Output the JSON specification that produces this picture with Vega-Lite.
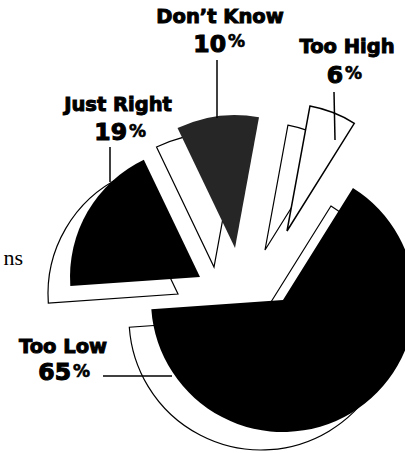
{
  "$schema": "https://vega.github.io/schema/vega-lite/v6.json",
  "width": 405,
  "height": 453,
  "padding": 0,
  "autosize": {"type": "fit", "contains": "padding"},
  "background": "white",
  "config": {"view": {"stroke": null}},
  "data": {"values": [
    {"answer": "Too Low", "pct": 65},
    {"answer": "Just Right", "pct": 19},
    {"answer": "Don’t Know", "pct": 10},
    {"answer": "Too High", "pct": 6}
  ]},
  "transform": [
    {"stack": "pct", "groupby": [], "sort": [{"field": "pct", "order": "descending"}], "as": ["t0", "t1"]}
  ],
  "layer": [
    {"transform": [{"filter": "datum.answer === 'Too Low'"}],
     "mark": {"type": "arc", "x": 261, "y": 318, "radius": 132, "fill": "white", "stroke": "black", "strokeWidth": 1.2},
     "encoding": {"theta": {"field": "t0", "type": "quantitative", "scale": {"domain": [0, 100], "range": [0.5585, 6.8417]}}, "theta2": {"field": "t1"}}},
    {"transform": [{"filter": "datum.answer === 'Just Right'"}],
     "mark": {"type": "arc", "x": 178, "y": 294, "radius": 130, "fill": "white", "stroke": "black", "strokeWidth": 1.2},
     "encoding": {"theta": {"field": "t0", "type": "quantitative", "scale": {"domain": [0, 100], "range": [0.5585, 6.8417]}}, "theta2": {"field": "t1"}}},
    {"transform": [{"filter": "datum.answer === 'Don’t Know'"}],
     "mark": {"type": "arc", "x": 214, "y": 267, "radius": 133, "fill": "white", "stroke": "black", "strokeWidth": 1.2},
     "encoding": {"theta": {"field": "t0", "type": "quantitative", "scale": {"domain": [0, 100], "range": [0.5585, 6.8417]}}, "theta2": {"field": "t1"}}},
    {"transform": [{"filter": "datum.answer === 'Too High'"}],
     "mark": {"type": "arc", "x": 265, "y": 250, "radius": 127, "fill": "white", "stroke": "black", "strokeWidth": 1.2},
     "encoding": {"theta": {"field": "t0", "type": "quantitative", "scale": {"domain": [0, 100], "range": [0.5585, 6.8417]}}, "theta2": {"field": "t1"}}},

    {"transform": [{"filter": "datum.answer === 'Too Low'"}],
     "mark": {"type": "arc", "x": 283, "y": 300, "radius": 132, "fill": "black"},
     "encoding": {"theta": {"field": "t0", "type": "quantitative", "scale": {"domain": [0, 100], "range": [0.5585, 6.8417]}}, "theta2": {"field": "t1"}}},
    {"transform": [{"filter": "datum.answer === 'Just Right'"}],
     "mark": {"type": "arc", "x": 200, "y": 277, "radius": 130, "fill": "black"},
     "encoding": {"theta": {"field": "t0", "type": "quantitative", "scale": {"domain": [0, 100], "range": [0.5585, 6.8417]}}, "theta2": {"field": "t1"}}},
    {"transform": [{"filter": "datum.answer === 'Don’t Know'"}],
     "mark": {"type": "arc", "x": 235, "y": 248, "radius": 133, "fill": "#262626"},
     "encoding": {"theta": {"field": "t0", "type": "quantitative", "scale": {"domain": [0, 100], "range": [0.5585, 6.8417]}}, "theta2": {"field": "t1"}}},
    {"transform": [{"filter": "datum.answer === 'Too High'"}],
     "mark": {"type": "arc", "x": 287, "y": 231, "radius": 127, "fill": "white", "stroke": "black", "strokeWidth": 1.5},
     "encoding": {"theta": {"field": "t0", "type": "quantitative", "scale": {"domain": [0, 100], "range": [0.5585, 6.8417]}}, "theta2": {"field": "t1"}}},

    {"transform": [{"filter": "datum.answer === 'Don’t Know'"}],
     "mark": {"type": "rule", "stroke": "black", "strokeWidth": 1.5},
     "encoding": {"x": {"value": 217}, "y": {"value": 60}, "x2": {"value": 217}, "y2": {"value": 118}}},
    {"transform": [{"filter": "datum.answer === 'Too High'"}],
     "mark": {"type": "rule", "stroke": "black", "strokeWidth": 1.5},
     "encoding": {"x": {"value": 334}, "y": {"value": 92}, "x2": {"value": 335}, "y2": {"value": 140}}},
    {"transform": [{"filter": "datum.answer === 'Just Right'"}],
     "mark": {"type": "rule", "stroke": "black", "strokeWidth": 1.5},
     "encoding": {"x": {"value": 110}, "y": {"value": 147}, "x2": {"value": 110}, "y2": {"value": 182}}},
    {"transform": [{"filter": "datum.answer === 'Too Low'"}],
     "mark": {"type": "rule", "stroke": "black", "strokeWidth": 1.5},
     "encoding": {"x": {"value": 103}, "y": {"value": 376}, "x2": {"value": 172}, "y2": {"value": 376}}},

    {"transform": [{"filter": "datum.answer === 'Don’t Know'"}],
     "mark": {"type": "text", "x": 220, "y": 23, "align": "center", "baseline": "alphabetic", "font": "DejaVu Sans", "fontWeight": "bold", "fontSize": 19.5, "stroke": "black", "strokeWidth": 1},
     "encoding": {"text": {"field": "answer"}}},
    {"transform": [{"filter": "datum.answer === 'Too High'"}],
     "mark": {"type": "text", "x": 347, "y": 53, "align": "center", "baseline": "alphabetic", "font": "DejaVu Sans", "fontWeight": "bold", "fontSize": 19.5, "stroke": "black", "strokeWidth": 1},
     "encoding": {"text": {"field": "answer"}}},
    {"transform": [{"filter": "datum.answer === 'Just Right'"}],
     "mark": {"type": "text", "x": 118, "y": 111, "align": "center", "baseline": "alphabetic", "font": "DejaVu Sans", "fontWeight": "bold", "fontSize": 19.5, "stroke": "black", "strokeWidth": 1},
     "encoding": {"text": {"field": "answer"}}},
    {"transform": [{"filter": "datum.answer === 'Too Low'"}],
     "mark": {"type": "text", "x": 63, "y": 353, "align": "center", "baseline": "alphabetic", "font": "DejaVu Sans", "fontWeight": "bold", "fontSize": 19.5, "stroke": "black", "strokeWidth": 1},
     "encoding": {"text": {"field": "answer"}}},

    {"transform": [{"filter": "datum.answer === 'Don’t Know'"}],
     "mark": {"type": "text", "x": 226, "y": 52, "align": "right", "baseline": "alphabetic", "font": "DejaVu Sans", "fontWeight": "bold", "fontSize": 23.5, "stroke": "black", "strokeWidth": 1.1},
     "encoding": {"text": {"field": "pct", "type": "quantitative"}}},
    {"transform": [{"filter": "datum.answer === 'Too High'"}],
     "mark": {"type": "text", "x": 343, "y": 83, "align": "right", "baseline": "alphabetic", "font": "DejaVu Sans", "fontWeight": "bold", "fontSize": 23.5, "stroke": "black", "strokeWidth": 1.1},
     "encoding": {"text": {"field": "pct", "type": "quantitative"}}},
    {"transform": [{"filter": "datum.answer === 'Just Right'"}],
     "mark": {"type": "text", "x": 127, "y": 140, "align": "right", "baseline": "alphabetic", "font": "DejaVu Sans", "fontWeight": "bold", "fontSize": 23.5, "stroke": "black", "strokeWidth": 1.1},
     "encoding": {"text": {"field": "pct", "type": "quantitative"}}},
    {"transform": [{"filter": "datum.answer === 'Too Low'"}],
     "mark": {"type": "text", "x": 71, "y": 380, "align": "right", "baseline": "alphabetic", "font": "DejaVu Sans", "fontWeight": "bold", "fontSize": 23.5, "stroke": "black", "strokeWidth": 1.1},
     "encoding": {"text": {"field": "pct", "type": "quantitative"}}},

    {"transform": [{"filter": "datum.answer === 'Don’t Know'"}],
     "mark": {"type": "text", "text": "%", "x": 228, "y": 47, "align": "left", "baseline": "alphabetic", "font": "DejaVu Sans", "fontWeight": "bold", "fontSize": 17, "stroke": "black", "strokeWidth": 0.6}, "encoding": {}},
    {"transform": [{"filter": "datum.answer === 'Too High'"}],
     "mark": {"type": "text", "text": "%", "x": 345, "y": 79, "align": "left", "baseline": "alphabetic", "font": "DejaVu Sans", "fontWeight": "bold", "fontSize": 17, "stroke": "black", "strokeWidth": 0.6}, "encoding": {}},
    {"transform": [{"filter": "datum.answer === 'Just Right'"}],
     "mark": {"type": "text", "text": "%", "x": 129, "y": 137, "align": "left", "baseline": "alphabetic", "font": "DejaVu Sans", "fontWeight": "bold", "fontSize": 17, "stroke": "black", "strokeWidth": 0.6}, "encoding": {}},
    {"transform": [{"filter": "datum.answer === 'Too Low'"}],
     "mark": {"type": "text", "text": "%", "x": 73, "y": 377, "align": "left", "baseline": "alphabetic", "font": "DejaVu Sans", "fontWeight": "bold", "fontSize": 17, "stroke": "black", "strokeWidth": 0.6}, "encoding": {}},

    {"transform": [{"filter": "datum.answer === 'Too Low'"}],
     "mark": {"type": "text", "text": "ns", "x": 23, "y": 265, "align": "right", "baseline": "alphabetic", "font": "Liberation Serif", "fontSize": 22}, "encoding": {}}
  ]
}
